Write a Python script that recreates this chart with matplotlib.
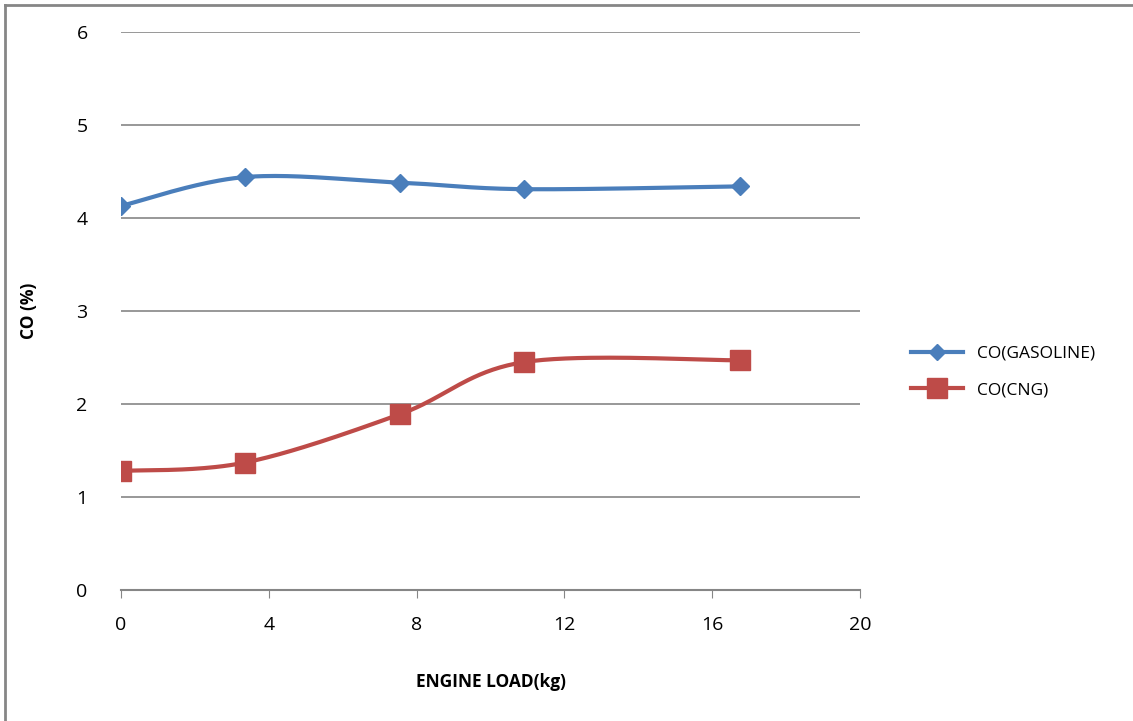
import numpy as np
import matplotlib.pyplot as plt
from matplotlib.lines import Line2D

# Engine load (kg) and CO readings (%)
engine_load = [0, 3.35, 7.55, 10.9, 16.75]
co_gasoline = [4.13, 4.44, 4.38, 4.31, 4.34]
co_cng = [1.28, 1.37, 1.89, 2.45, 2.47]

x_ticks = [0, 4, 8, 12, 16, 20]
y_ticks = [0, 1, 2, 3, 4, 5, 6]


def smooth(xs, ys, n=40):
    # Excel-style smoothed line: Catmull-Rom segments as cubic Bezier
    p = np.column_stack([xs, ys]).astype(float)
    pts = np.vstack([p[0], p, p[-1]])
    out = []
    t = np.linspace(0, 1, n)[:, None]
    for i in range(1, len(pts) - 2):
        p0, p1, p2, p3 = pts[i - 1], pts[i], pts[i + 1], pts[i + 2]
        c1 = p1 + (p2 - p0) / 6
        c2 = p2 - (p3 - p1) / 6
        seg = ((1 - t) ** 3) * p1 + 3 * ((1 - t) ** 2) * t * c1 + 3 * (1 - t) * t ** 2 * c2 + t ** 3 * p2
        out.append(seg)
    curve = np.vstack(out)
    return curve[:, 0], curve[:, 1]


def draw_plot():
    plt.rcParams['font.family'] = ['Open Sans', 'DejaVu Sans']
    fig = plt.figure(figsize=(11.33, 7.21), dpi=100)
    ax = fig.add_axes([121 / 1133, 1 - 590 / 721, (860 - 121) / 1133, (590 - 32) / 721])

    blue = '#4A7EBB'
    red = '#BE4B48'

    for y in y_ticks[1:]:
        ax.axhline(y, color='#868686', lw=1.2, zorder=0)

    sx, sy = smooth(engine_load, co_gasoline)
    ax.plot(sx, sy, color=blue, lw=3, zorder=2)
    ax.plot(engine_load, co_gasoline, 'D', color=blue, ms=9, zorder=3)
    sx, sy = smooth(engine_load, co_cng)
    ax.plot(sx, sy, color=red, lw=3, zorder=2)
    ax.plot(engine_load, co_cng, 's', color=red, ms=15, zorder=3)

    # legend proxies
    ax.plot([], [], color=blue, lw=3, marker='D', ms=8, label='CO(GASOLINE)')
    ax.plot([], [], color=red, lw=3, marker='s', ms=14, label='CO(CNG)')

    ax.set_xlim(0, 20)
    ax.set_ylim(0, 6)
    ax.set_xticks(x_ticks)
    ax.set_yticks(y_ticks)
    for s in ['top', 'right', 'left']:
        ax.spines[s].set_visible(False)
    ax.spines['bottom'].set_color('#868686')
    ax.spines['bottom'].set_linewidth(1.5)
    ax.tick_params(axis='x', length=6, color='#868686', labelsize=14, pad=13)
    ax.tick_params(axis='y', length=0, labelsize=14, pad=24)

    ax.set_xlabel('ENGINE LOAD(kg)', fontsize=12.5, fontweight='bold', labelpad=28)
    ax.set_ylabel('CO (%)', fontsize=12.5, fontweight='bold', labelpad=28)

    handles, labels = ax.get_legend_handles_labels()
    fig.legend(handles[-2:], labels[-2:], loc='center left', bbox_to_anchor=(895 / 1133, 1 - 372 / 721),
               frameon=False, fontsize=12.5, handlelength=3, labelspacing=1.2)

    # chart frame: only top and left edges show
    fig.add_artist(Line2D([5 / 1133, 1], [1 - 5 / 721, 1 - 5 / 721], transform=fig.transFigure,
                          color='#868686', lw=2))
    fig.add_artist(Line2D([5 / 1133, 5 / 1133], [0, 1 - 5 / 721], transform=fig.transFigure,
                          color='#868686', lw=2))

    plt.savefig('out.png')


if __name__ == "__main__":
    draw_plot()
